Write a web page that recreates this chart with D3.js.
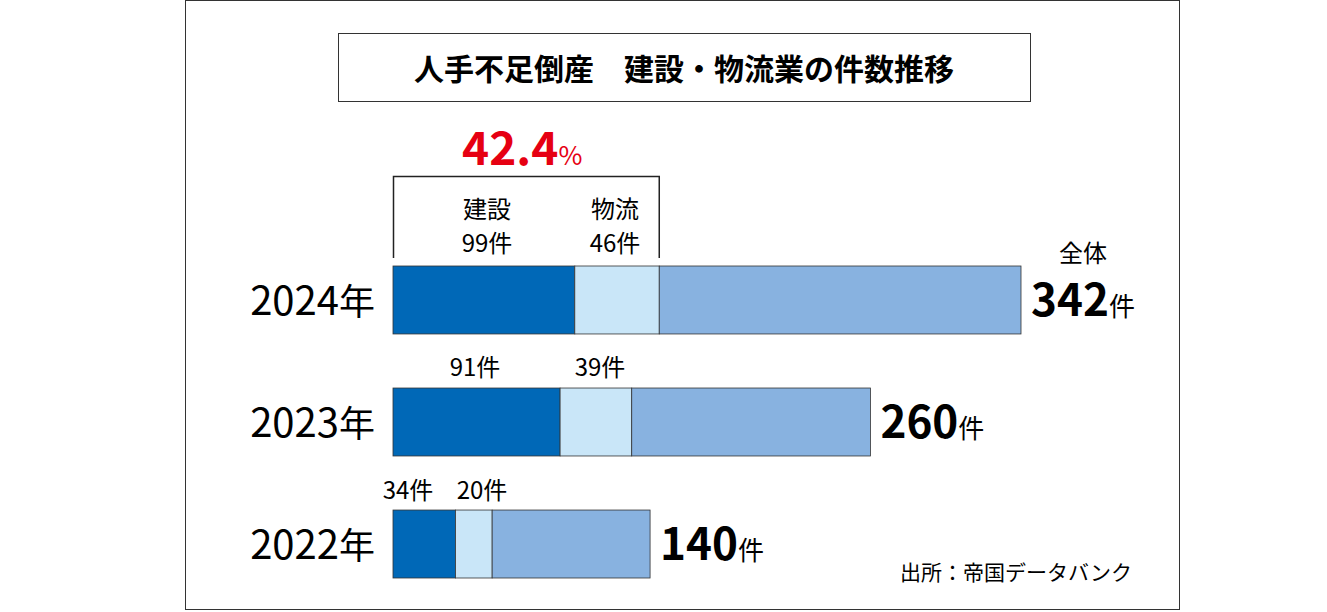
<!DOCTYPE html><html><head><meta charset="utf-8"><script src="https://cdn.jsdelivr.net/npm/d3@7"></script>
<style>body{margin:0;background:#fff}text{font-family:"Noto Sans CJK JP",sans-serif}</style></head><body><svg id="c" width="1327" height="612"></svg>
<script>
const years=["2024年","2023年","2022年"];
const construction=[99,91,34];
const logistics=[46,39,20];
const totals=[342,260,140];
const svg=d3.select("#c");
svg.append("rect").attr("x",185.5).attr("y",0.5).attr("width",994).attr("height",609).attr("fill","none").attr("stroke","#333");
svg.append("rect").attr("x",338.5).attr("y",33.5).attr("width",692).attr("height",68).attr("fill","none").attr("stroke","#333");
svg.append("text").attr("x",684).attr("y",80).attr("text-anchor","middle").attr("font-size",30).attr("font-weight","bold").text("人手不足倒産　建設・物流業の件数推移");
const x=d3.scaleLinear().domain([0,342]).range([393,1021]);
const y=d3.scaleBand().domain(years).range([266,578]).paddingInner(0.443).paddingOuter(0);
const bh=y.bandwidth();
const cols=["#0068b7","#c9e6f8","#88b2e0"];
years.forEach((yr,i)=>{
  const segs=[[0,construction[i]],[construction[i],construction[i]+logistics[i]],[construction[i]+logistics[i],totals[i]]];
  segs.forEach((s,j)=>svg.append("rect").attr("x",x(s[0])).attr("y",y(yr)).attr("width",x(s[1])-x(s[0])).attr("height",bh).attr("fill",cols[j]).attr("stroke","#333").attr("stroke-width",0.8));
  const yc=y(yr)+bh/2;
  const yt=svg.append("text").attr("x",375).attr("y",yc+15).attr("text-anchor","end").attr("font-size",40).attr("font-family","Liberation Sans Narrow, sans-serif").text(yr.slice(0,4));
  yt.append("tspan").attr("font-family","Noto Sans CJK JP").attr("font-size",36).text("年");
  const t=svg.append("text").attr("x",x(totals[i])+10).attr("y",yc+16).attr("font-size",44).attr("font-weight","bold").attr("font-family","Liberation Sans Narrow, sans-serif").text(totals[i]);
  t.append("tspan").attr("font-size",26).attr("font-weight","normal").attr("font-family","Noto Sans CJK JP").text("件");
});
function lbl(xx,yy,s){svg.append("text").attr("x",xx).attr("y",yy).attr("text-anchor","middle").attr("font-size",24).text(s);}
lbl(487,218,"建設");lbl(487,252,construction[0]+"件");
lbl(615,218,"物流");lbl(615,252,logistics[0]+"件");
lbl(475,376,construction[1]+"件");lbl(600,376,logistics[1]+"件");
lbl(408,499,construction[2]+"件");lbl(482,499,logistics[2]+"件");
lbl(1083,262,"全体");
svg.append("path").attr("d",`M${x(0)+0.5},258V176.5H${x(construction[0]+logistics[0])}V258`).attr("fill","none").attr("stroke","#222").attr("stroke-width",1.5);
const p=svg.append("text").attr("x",462).attr("y",165).attr("font-size",46).attr("font-weight","bold").attr("fill","#e60012").attr("font-family","Liberation Sans Narrow, sans-serif").text("42.4");
p.append("tspan").attr("font-size",26).attr("font-weight","normal").text("%");
svg.append("text").attr("x",1132).attr("y",580).attr("text-anchor","end").attr("font-size",21).text("出所：帝国データバンク");
</script></body></html>
